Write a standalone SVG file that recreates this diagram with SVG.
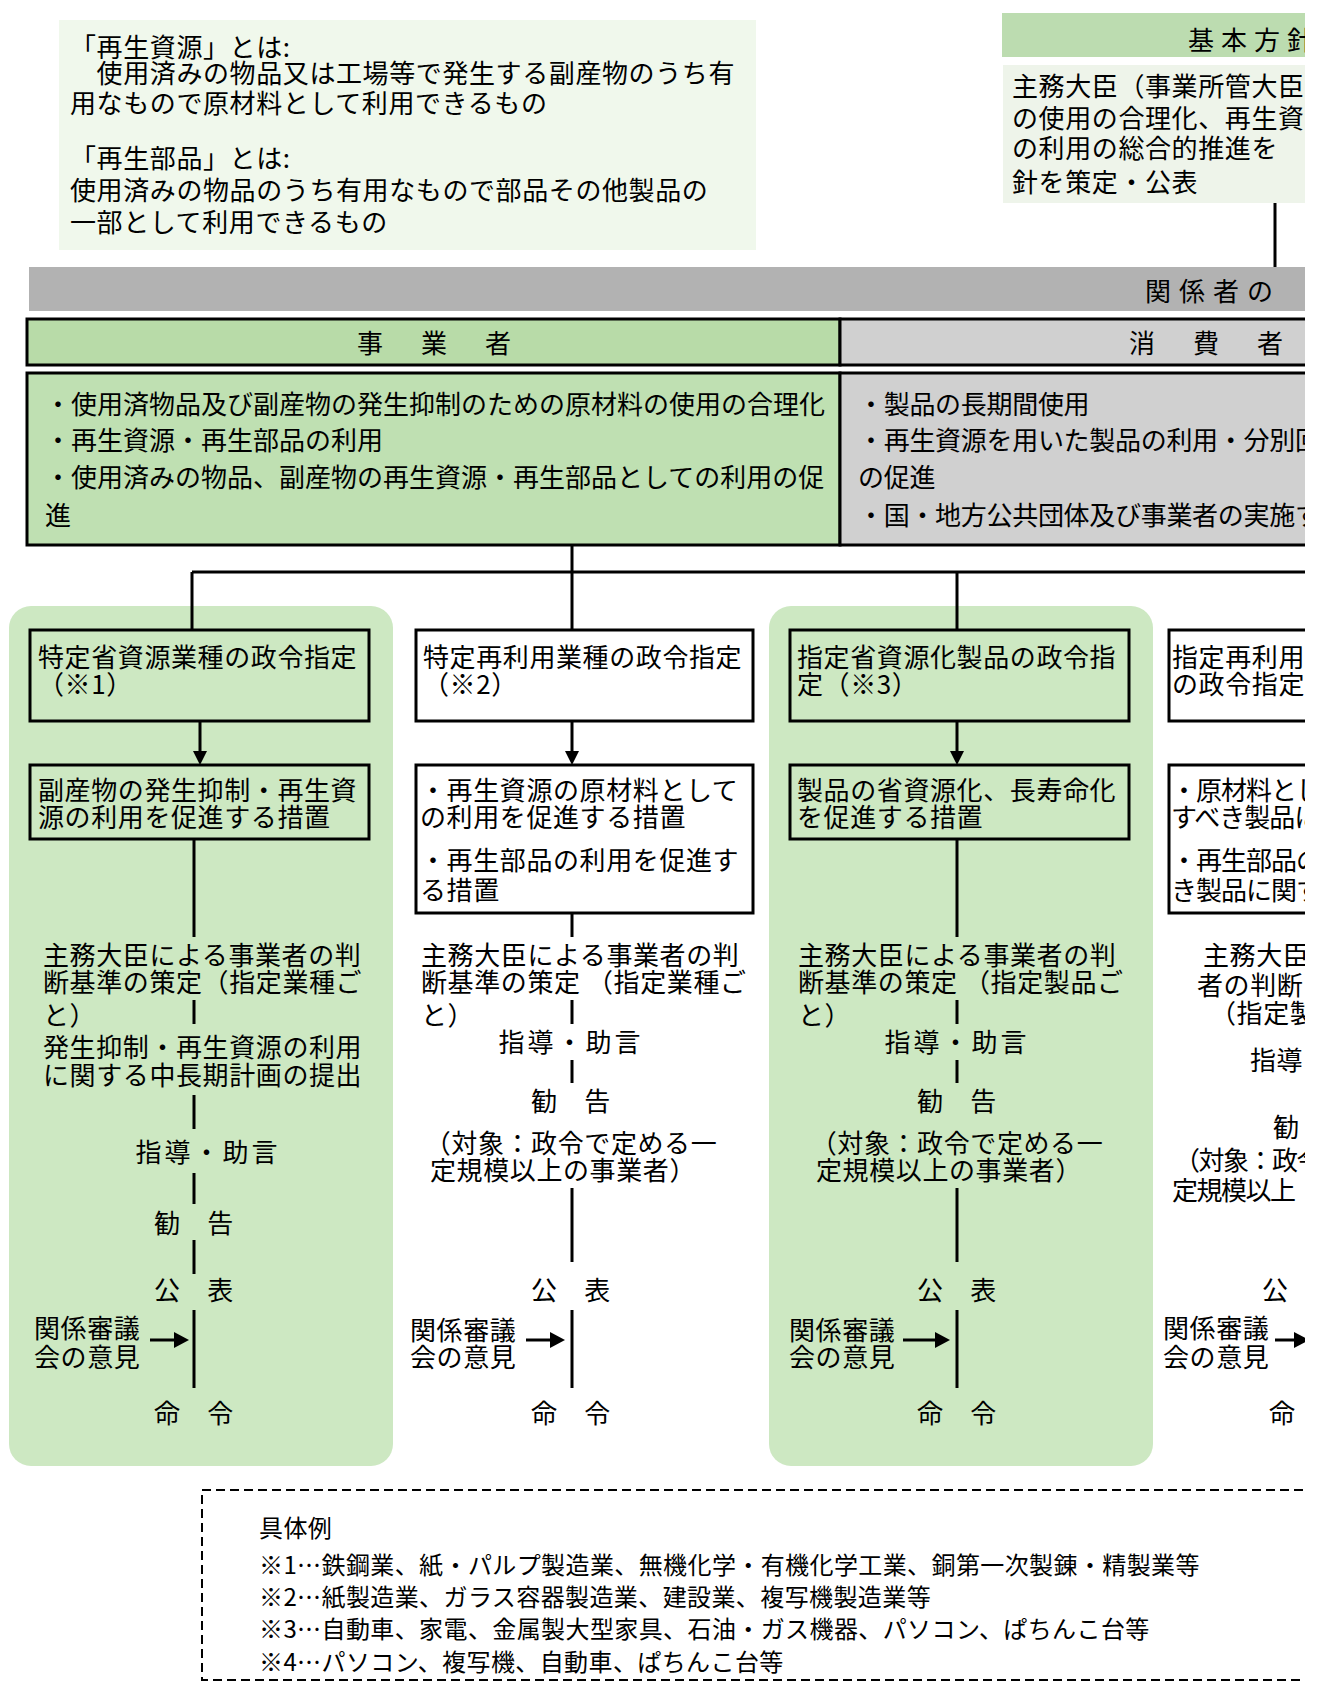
<svg xmlns="http://www.w3.org/2000/svg" width="1323" height="1686" viewBox="0 0 1323 1686">
<style>
.t{font-family:"Noto Sans CJK JP","Noto Sans CJK SC",sans-serif;font-size:26px;letter-spacing:0.6px;fill:#000}
.m{text-anchor:middle}
.sp{letter-spacing:6px}
.s3{letter-spacing:3px}
.l0{letter-spacing:0}
.cut{letter-spacing:-1px}
.lg{font-size:24px;letter-spacing:0.4px}
.bx{fill:#fff;stroke:#000;stroke-width:3}
.bxg{fill:none;stroke:#000;stroke-width:3}
.ln{stroke:#000;stroke-width:3;fill:none}
.ah{fill:#000}
.colbg{fill:#cde8c2}
</style>
<defs>
<clipPath id="cl"><rect x="0" y="0" width="1305" height="1686"/></clipPath>
</defs>
<rect width="1323" height="1686" fill="#fff"/>
<g clip-path="url(#cl)">

<rect class="colbg" x="9" y="606" width="384" height="860" rx="22"/>
<rect class="colbg" x="769" y="606" width="384" height="860" rx="22"/>

<g id="definitions">
<rect x="59" y="20" width="697" height="230" fill="#f0f8ec"/>
<text class="t"><tspan x="70" y="57">「再生資源」とは:</tspan><tspan x="70" y="83">　使用済みの物品又は工場等で発生する副産物のうち有</tspan><tspan x="70" y="113">用なもので原材料として利用できるもの</tspan></text>
<text class="t"><tspan x="70" y="168">「再生部品」とは:</tspan><tspan x="70" y="200">使用済みの物品のうち有用なもので部品その他製品の</tspan><tspan x="70" y="232">一部として利用できるもの</tspan></text>
</g>

<g id="basic-policy">
<rect x="1002" y="13" width="320" height="44" fill="#bcdcb0"/>
<text class="t" x="1188" y="50" style="letter-spacing:7px">基本方針</text>
<rect x="1003" y="65" width="320" height="138" fill="#eef4ea"/>
<text class="t"><tspan x="1012" y="96">主務大臣（事業所管大臣</tspan><tspan x="1012" y="128">の使用の合理化、再生資</tspan><tspan x="1012" y="158">の利用の総合的推進を</tspan><tspan x="1012" y="192">針を策定・公表</tspan></text>
</g>

<g id="responsibilities-band">
<rect x="29" y="267" width="1294" height="44" fill="#b2b2b2"/>
<text class="t" x="1145" y="301" style="letter-spacing:8px">関係者の</text>
</g>

<g id="header-business">
<rect x="27" y="319" width="813" height="46" fill="#b8dba8" stroke="#000" stroke-width="3"/>
<text class="t m sp" x="437" y="353">事　業　者</text>
</g>
<g id="header-consumer">
<rect x="840" y="319" width="490" height="46" fill="#d0d0d0" stroke="#000" stroke-width="3"/>
<text class="t sp" x="1129" y="353">消　費　者</text>
</g>

<g id="duties-business">
<rect x="27" y="373" width="813" height="172" fill="#bfe0b2" stroke="#000" stroke-width="3"/>
<text class="t l0"><tspan x="45" y="414">・使用済物品及び副産物の発生抑制のための原材料の使用の合理化</tspan><tspan x="45" y="450">・再生資源・再生部品の利用</tspan><tspan x="45" y="487">・使用済みの物品、副産物の再生資源・再生部品としての利用の促</tspan><tspan x="45" y="525">進</tspan></text>
</g>
<g id="duties-consumer">
<rect x="840" y="373" width="490" height="172" fill="#d0d0d0" stroke="#000" stroke-width="3"/>
<text class="t" style="letter-spacing:-0.3px"><tspan x="858" y="414">・製品の長期間使用</tspan><tspan x="858" y="450">・再生資源を用いた製品の利用・分別回</tspan><tspan x="858" y="487">の促進</tspan><tspan x="858" y="525">・国・地方公共団体及び事業者の実施す</tspan></text>
</g>

<!-- column 1 -->
<g id="c1-designation">
<rect class="bxg" x="30" y="630" width="339" height="91"/>
<text class="t"><tspan x="38" y="667">特定省資源業種の政令指定</tspan><tspan x="38" y="694">（※1）</tspan></text>
</g>
<g id="c1-measures">
<rect class="bxg" x="30" y="765" width="339" height="74"/>
<text class="t"><tspan x="38" y="800">副産物の発生抑制・再生資</tspan><tspan x="38" y="827">源の利用を促進する措置</tspan></text>
</g>
<g id="c1-criteria">
<text class="t"><tspan x="43" y="965">主務大臣による事業者の判</tspan><tspan x="43" y="992">断基準の策定（指定業種ご</tspan><tspan x="43" y="1025">と）</tspan></text>
<text class="t"><tspan x="43" y="1057">発生抑制・再生資源の利用</tspan><tspan x="43" y="1085">に関する中長期計画の提出</tspan></text>
</g>
<g id="c1-guidance"><text class="t m s3" x="208" y="1162">指導・助言</text></g>
<g id="c1-recommend"><text class="t m" x="194" y="1233">勧　告</text></g>
<g id="c1-publish"><text class="t m" x="194" y="1300">公　表</text></g>
<g id="c1-council"><text class="t"><tspan x="34" y="1338">関係審議</tspan><tspan x="34" y="1367">会の意見</tspan></text></g>
<g id="c1-order"><text class="t m" x="194" y="1423">命　令</text></g>

<!-- column 2 -->
<g id="c2-designation">
<rect class="bx" x="416" y="630" width="337" height="91"/>
<text class="t"><tspan x="423" y="667">特定再利用業種の政令指定</tspan><tspan x="423" y="694">（※2）</tspan></text>
</g>
<g id="c2-measures">
<rect class="bx" x="416" y="765" width="337" height="148"/>
<text class="t"><tspan x="420" y="800">・再生資源の原材料として</tspan><tspan x="420" y="827">の利用を促進する措置</tspan></text>
<text class="t"><tspan x="420" y="870">・再生部品の利用を促進す</tspan><tspan x="420" y="900">る措置</tspan></text>
</g>
<g id="c2-criteria">
<text class="t"><tspan x="421" y="965">主務大臣による事業者の判</tspan><tspan x="421" y="992">断基準の策定 （指定業種ご</tspan><tspan x="421" y="1025">と）</tspan></text>
</g>
<g id="c2-guidance"><text class="t m s3" x="571" y="1052">指導・助言</text></g>
<g id="c2-recommend"><text class="t m" x="571" y="1111">勧　告</text>
<text class="t m"><tspan x="571" y="1153">（対象：政令で定める一</tspan><tspan x="563" y="1180">定規模以上の事業者）</tspan></text></g>
<g id="c2-publish"><text class="t m" x="571" y="1300">公　表</text></g>
<g id="c2-council"><text class="t"><tspan x="410" y="1340">関係審議</tspan><tspan x="410" y="1367">会の意見</tspan></text></g>
<g id="c2-order"><text class="t m" x="571" y="1423">命　令</text></g>

<!-- column 3 -->
<g id="c3-designation">
<rect class="bxg" x="790" y="630" width="339" height="91"/>
<text class="t"><tspan x="797" y="667">指定省資源化製品の政令指</tspan><tspan x="797" y="694">定（※3）</tspan></text>
</g>
<g id="c3-measures">
<rect class="bxg" x="790" y="765" width="339" height="74"/>
<text class="t"><tspan x="797" y="800">製品の省資源化、長寿命化</tspan><tspan x="797" y="827">を促進する措置</tspan></text>
</g>
<g id="c3-criteria">
<text class="t"><tspan x="798" y="965">主務大臣による事業者の判</tspan><tspan x="798" y="992">断基準の策定 （指定製品ご</tspan><tspan x="798" y="1025">と）</tspan></text>
</g>
<g id="c3-guidance"><text class="t m s3" x="957" y="1052">指導・助言</text></g>
<g id="c3-recommend"><text class="t m" x="957" y="1111">勧　告</text>
<text class="t m"><tspan x="957" y="1153">（対象：政令で定める一</tspan><tspan x="949" y="1180">定規模以上の事業者）</tspan></text></g>
<g id="c3-publish"><text class="t m" x="957" y="1300">公　表</text></g>
<g id="c3-council"><text class="t"><tspan x="789" y="1340">関係審議</tspan><tspan x="789" y="1367">会の意見</tspan></text></g>
<g id="c3-order"><text class="t m" x="957" y="1423">命　令</text></g>

<!-- column 4 (cut at right edge) -->
<g id="c4-designation">
<rect class="bx" x="1169" y="630" width="200" height="91"/>
<text class="t"><tspan x="1172" y="667">指定再利用</tspan><tspan x="1172" y="694">の政令指定</tspan></text>
</g>
<g id="c4-measures">
<rect class="bx" x="1169" y="765" width="200" height="148"/>
<text class="t cut"><tspan x="1171" y="800">・原材料とし</tspan><tspan x="1171" y="827">すべき製品に</tspan></text>
<text class="t cut"><tspan x="1171" y="870">・再生部品の</tspan><tspan x="1171" y="900">き製品に関す</tspan></text>
</g>
<g id="c4-criteria">
<text class="t"><tspan x="1203" y="965">主務大臣</tspan><tspan x="1197" y="995">者の判断</tspan><tspan x="1210" y="1023">（指定製</tspan></text>
</g>
<g id="c4-guidance"><text class="t" x="1250" y="1070">指導</text></g>
<g id="c4-recommend"><text class="t" x="1273" y="1137">勧</text>
<text class="t" style="letter-spacing:-1.5px"><tspan x="1174" y="1170">（対象：政令</tspan><tspan x="1172" y="1200">定規模以上</tspan></text></g>
<g id="c4-publish"><text class="t" x="1262" y="1300">公</text></g>
<g id="c4-council"><text class="t"><tspan x="1163" y="1338">関係審議</tspan><tspan x="1163" y="1367">会の意見</tspan></text></g>
<g id="c4-order"><text class="t" x="1269" y="1423">命</text></g>

<g id="examples">
<rect x="202" y="1490" width="1140" height="190" fill="none" stroke="#000" stroke-width="2" stroke-dasharray="9,5"/>
<text class="t lg"><tspan x="259" y="1537">具体例</tspan><tspan x="259" y="1574">※1…鉄鋼業、紙・パルプ製造業、無機化学・有機化学工業、銅第一次製錬・精製業等</tspan><tspan x="259" y="1606">※2…紙製造業、ガラス容器製造業、建設業、複写機製造業等</tspan><tspan x="259" y="1638">※3…自動車、家電、金属製大型家具、石油・ガス機器、パソコン、ぱちんこ台等</tspan><tspan x="259" y="1671">※4…パソコン、複写機、自動車、ぱちんこ台等</tspan></text>
</g>

<g id="connectors">
<line class="ln" x1="1275" y1="203" x2="1275" y2="267"/>
<line class="ln" x1="572" y1="545" x2="572" y2="630"/>
<line class="ln" x1="192" y1="572" x2="1323" y2="572"/>
<line class="ln" x1="192" y1="572" x2="192" y2="630"/>
<line class="ln" x1="957" y1="572" x2="957" y2="630"/>
<line class="ln" x1="200" y1="721" x2="200" y2="752"/>
<polygon class="ah" points="193,751 207,751 200,765"/>
<line class="ln" x1="572" y1="721" x2="572" y2="752"/>
<polygon class="ah" points="565,751 579,751 572,765"/>
<line class="ln" x1="957" y1="721" x2="957" y2="752"/>
<polygon class="ah" points="950,751 964,751 957,765"/>
<line class="ln" x1="194" y1="839" x2="194" y2="937"/>
<line class="ln" x1="194" y1="1000" x2="194" y2="1024"/>
<line class="ln" x1="194" y1="1095" x2="194" y2="1129"/>
<line class="ln" x1="194" y1="1173" x2="194" y2="1204"/>
<line class="ln" x1="194" y1="1240" x2="194" y2="1274"/>
<line class="ln" x1="194" y1="1310" x2="194" y2="1388"/>
<line class="ln" x1="150" y1="1340" x2="176" y2="1340"/>
<polygon class="ah" points="174,1332 189,1340 174,1348"/>
<line class="ln" x1="572" y1="913" x2="572" y2="937"/>
<line class="ln" x1="572" y1="1000" x2="572" y2="1024"/>
<line class="ln" x1="572" y1="1060" x2="572" y2="1083"/>
<line class="ln" x1="572" y1="1188" x2="572" y2="1262"/>
<line class="ln" x1="572" y1="1310" x2="572" y2="1388"/>
<line class="ln" x1="526" y1="1340" x2="552" y2="1340"/>
<polygon class="ah" points="550,1332 565,1340 550,1348"/>
<line class="ln" x1="957" y1="839" x2="957" y2="937"/>
<line class="ln" x1="957" y1="1000" x2="957" y2="1024"/>
<line class="ln" x1="957" y1="1060" x2="957" y2="1083"/>
<line class="ln" x1="957" y1="1188" x2="957" y2="1262"/>
<line class="ln" x1="957" y1="1310" x2="957" y2="1388"/>
<line class="ln" x1="903" y1="1340" x2="937" y2="1340"/>
<polygon class="ah" points="935,1332 950,1340 935,1348"/>
<line class="ln" x1="1275" y1="1340" x2="1296" y2="1340"/>
<polygon class="ah" points="1294,1332 1309,1340 1294,1348"/>
</g>

</g>
</svg>
